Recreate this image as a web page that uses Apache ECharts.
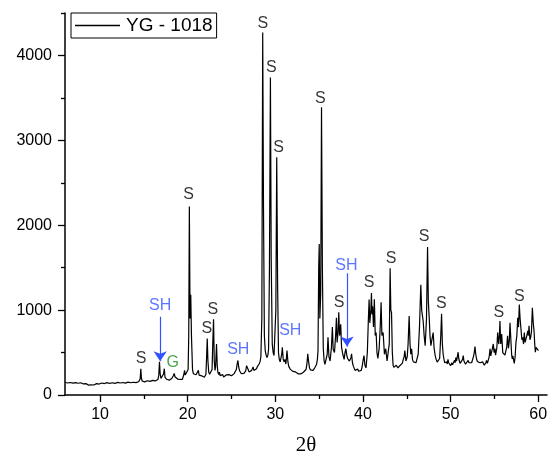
<!DOCTYPE html>
<html>
<head>
<meta charset="utf-8">
<script src="https://cdn.jsdelivr.net/npm/echarts@6/dist/echarts.min.js"></script>
<style>
  html, body { margin: 0; padding: 0; background: #fff; }
  #chart { width: 553px; height: 461px; }
</style>
</head>
<body>
<div id="chart"></div>
<script>
// XRD scan of sample YG - 1018: [2θ (deg), intensity (counts)]
const scanLow = [
  [6.0,150],[6.1,144],[6.2,152],[6.3,141],[6.4,148],[6.5,139],[6.6,147],[6.7,137],[6.8,145],[6.9,140],
  [7.0,151],[7.1,138],[7.2,146],[7.3,135],[7.4,143],[7.5,138],[7.6,149],[7.7,136],[7.8,144],[7.9,133],
  [8.0,141],[8.1,130],[8.2,138],[8.3,127],[8.4,134],[8.5,122],[8.6,129],[8.7,116],[8.8,124],[8.9,112],
  [9.0,120],[9.1,114],[9.2,126],[9.3,118],[9.4,130],[9.5,123],[9.6,134],[9.7,126],[9.8,136],[9.9,129],
  [10.0,139],[10.1,131],[10.2,141],[10.3,133],[10.4,144],[10.5,135],[10.6,142],[10.7,134],[10.8,146],[10.9,138],
  [11.0,143],[11.1,136],[11.2,147],[11.3,137],[11.4,144],[11.5,139],[11.6,148],[11.7,136],[11.8,145],[11.9,140],
  [12.0,149],[12.1,138],[12.2,146],[12.3,141],[12.4,150],[12.5,139],[12.6,147],[12.7,142],[12.8,151],[12.9,140],
  [13.0,148],[13.1,143],[13.2,152],[13.3,141],[13.4,149],[13.5,144],[13.6,153],[13.7,142],[13.8,150],[13.9,145],
  [14.0,154],[14.1,146],[14.2,151],[14.3,147],[14.4,156],[14.5,152],[14.58,190],[14.65,310],[14.72,200],[14.8,165],
  [14.9,158],[15.0,166],[15.1,155],[15.2,163],[15.3,158],[15.4,168],[15.5,156],[15.6,165],[15.7,160],[15.8,170],
  [15.9,161],[16.0,172],[16.1,164],[16.2,175],[16.3,166],[16.4,176],[16.5,170],[16.6,182],[16.7,230],[16.78,390],
  [16.86,250],[16.95,195],[17.05,185],[17.15,200],[17.25,250],[17.33,310],[17.41,210],[17.5,190],[17.6,185],[17.7,176],
  [17.8,182],[17.9,175],[18.0,190],[18.1,184],[18.2,198],[18.3,205],[18.38,230],[18.46,255],[18.55,215],[18.65,205],
  [18.75,195],[18.85,188],[19.0,176],[19.1,183],[19.2,172],[19.3,180],[19.4,185],[19.5,205],[19.58,250],[19.64,290],
  [19.72,235],[19.82,225],[19.92,240]
];
const scanMid = [
  [20.05,300],[20.12,700],[20.19,2220],[20.27,900],[20.35,1180],[20.43,700],[20.55,300],[20.65,250],[20.75,236],[20.85,228],
  [20.95,238],[21.05,232],[21.14,255],[21.22,290],[21.3,235],[21.4,222],[21.5,215],[21.6,226],[21.7,218],[21.8,230],
  [21.9,210],[22.0,225],[22.08,245],[22.16,450],[22.23,666],[22.31,400],[22.4,270],[22.5,245],[22.6,232],[22.7,248],
  [22.78,300],[22.86,600],[22.95,892],[23.03,400],[23.12,290],[23.18,330],[23.23,450],[23.29,601],[23.37,350],[23.45,265],
  [23.55,240],[23.62,270],[23.7,228],[23.8,238],[23.9,226],[24.0,240],[24.1,212],[24.2,230],[24.3,220],[24.4,236],
  [24.5,214],[24.6,232],[24.7,240],[24.8,222],[24.9,236],[25.0,226],[25.1,244],[25.2,236],[25.3,252],[25.42,266],
  [25.55,300],[25.65,370],[25.73,407],[25.82,330],[25.92,285],[26.02,262],[26.12,250],[26.22,245],[26.32,262],[26.42,255],
  [26.52,272],[26.62,285],[26.72,345],[26.8,360],[26.9,300],[27.0,272],[27.1,262],[27.2,280],[27.3,290],[27.38,305],
  [27.46,330],[27.55,290],[27.65,285],[27.75,280],[27.85,310],[27.95,335],[28.05,350],[28.15,365],[28.25,390],[28.35,450],
  [28.46,900],[28.56,4270],[28.65,2200],[28.75,700],[28.85,520],[28.95,470],[29.05,440],[29.15,470],[29.23,540],[29.33,1500],
  [29.44,3740],[29.53,1600],[29.65,600],[29.75,500],[29.85,465],[29.95,480],[30.06,1000],[30.16,2800],[30.26,1300],[30.36,500],
  [30.45,420],[30.55,390],[30.65,410],[30.73,480],[30.8,562],[30.9,420],[31.0,390],[31.1,420],[31.2,365],[31.27,440],
  [31.33,523],[31.43,400],[31.52,340],[31.6,330],[31.7,305],[31.8,318],[31.9,292],[32.0,278],[32.1,265],[32.2,256],
  [32.3,272],[32.4,258],[32.5,278],[32.6,250],[32.7,262],[32.8,272],[32.9,248],[33.0,262],[33.1,245],[33.2,268],
  [33.3,258],[33.4,280],[33.5,300],[33.6,360],[33.7,485],[33.8,390],[33.9,320],[34.0,295],[34.1,285],[34.2,300],
  [34.3,290],[34.4,310],[34.5,320],[34.6,338],[34.7,360],[34.8,420],[34.87,520],[34.95,1500],[35.01,1780],[35.08,900],
  [35.18,1200],[35.27,3390],[35.37,1500],[35.47,550],[35.57,400],[35.66,360],[35.74,375],[35.82,370],[35.92,480]
];
const scanHigh = [
  [36.01,680],[36.12,450],[36.25,400],[36.4,560],[36.51,800],[36.6,540],[36.75,500],[36.88,700],[36.97,910],[37.05,620],
  [37.16,750],[37.24,975],[37.33,700],[37.46,833],[37.56,560],[37.7,480],[37.85,420],[37.95,500],[38.05,545],[38.15,470],
  [38.25,430],[38.35,445],[38.45,400],[38.55,420],[38.63,440],[38.7,485],[38.8,380],[38.9,340],[39.0,318],[39.1,290],
  [39.2,312],[39.3,298],[39.4,306],[39.5,280],[39.6,296],[39.7,300],[39.8,290],[39.9,330],[40.03,420],[40.12,465],
  [40.22,350],[40.35,320],[40.5,500],[40.62,900],[40.7,1124],[40.78,850],[40.9,1000],[40.97,1200],[41.03,950],[41.1,1046],
  [41.2,800],[41.3,1128],[41.4,700],[41.5,736],[41.6,500],[41.7,430],[41.85,550],[41.97,800],[42.07,1093],[42.16,700],
  [42.3,736],[42.45,480],[42.6,545],[42.75,400],[42.9,388],[43.0,600],[43.1,1492],[43.18,1000],[43.26,969],[43.35,500],
  [43.44,349],[43.52,325],[43.6,340],[43.7,318],[43.8,350],[43.9,330],[44.0,320],[44.1,338],[44.2,345],[44.3,330],
  [44.4,360],[44.5,375],[44.6,420],[44.7,450],[44.78,523],[44.9,400],[45.05,450],[45.15,600],[45.27,930],[45.37,600],
  [45.46,480],[45.55,545],[45.65,420],[45.75,390],[45.85,372],[45.95,390],[46.05,380],[46.15,420],[46.3,480],[46.45,800],
  [46.6,1299],[46.7,1000],[46.87,872],[46.98,700],[47.1,581],[47.25,900],[47.37,1744],[47.46,1100],[47.55,930],[47.65,700],
  [47.75,581],[47.88,600],[48.01,736],[48.12,550],[48.24,465],[48.35,420],[48.47,388],[48.6,400],[48.75,430],[48.88,700],
  [48.97,957],[49.06,600],[49.15,480],[49.23,430],[49.32,380],[49.4,360],[49.48,372],[49.55,390],[49.62,365],[49.7,420],
  [49.78,380],[49.85,360],[49.92,372],[50.0,345],[50.08,362],[50.15,380],[50.22,355],[50.3,360],[50.38,375],[50.45,410],
  [50.52,380],[50.6,440],[50.68,400],[50.75,380],[50.86,504],[50.93,430],[51.0,400],[51.08,372],[51.15,360],[51.22,380],
  [51.3,390],[51.37,420],[51.44,465],[51.52,400],[51.6,380],[51.7,362],[51.8,350],[51.9,372],[52.0,407],[52.1,380],
  [52.2,360],[52.3,372],[52.4,380],[52.5,400],[52.6,450],[52.7,500],[52.78,570],[52.87,480],[52.95,430],[53.05,395],
  [53.15,407],[53.25,372],[53.35,380],[53.45,362],[53.54,368],[53.65,390],[53.75,380],[53.85,350],[53.95,360],[54.02,380],
  [54.1,407],[54.2,372],[54.3,380],[54.4,450],[54.5,545],[54.58,460],[54.65,480],[54.75,540],[54.87,601],[54.96,500],
  [55.06,545],[55.13,470],[55.2,480],[55.28,560],[55.37,736],[55.45,640],[55.5,600],[55.57,700],[55.63,872],[55.72,600],
  [55.83,717],[55.95,500],[56.04,480],[56.12,523],[56.2,470],[56.3,480],[56.4,560],[56.5,698],[56.6,550],[56.7,640],
  [56.78,850],[56.9,600],[56.97,470],[57.04,426],[57.1,460],[57.15,450],[57.21,400],[57.27,372],[57.36,450],[57.46,620],
  [57.56,700],[57.66,910],[57.75,800],[57.84,1066],[57.93,900],[58.03,779],[58.13,650],[58.23,678],[58.32,600],[58.41,736],
  [58.5,620],[58.6,640],[58.7,700],[58.8,756],[58.88,700],[58.95,814],[59.05,650],[59.14,678],[59.23,750],[59.33,1027],
  [59.43,850],[59.52,756],[59.6,600],[59.67,504],[59.75,560],[59.83,581],[59.92,540],[60.02,523]
];

// Phase labels: [2θ, intensity, phase]  (S, SH, G)
const phaseLabels = [
  [14.69,427,'S'],[16.86,1055,'SH'],[18.3,376,'G'],[20.09,2360,'S'],[22.18,783,'S'],[22.87,1008,'S'],
  [25.77,535,'SH'],[28.58,4380,'S'],[29.54,3857,'S'],[30.38,2919,'S'],[31.71,756,'SH'],[35.14,3488,'S'],
  [37.27,1085,'S'],[38.11,1520,'SH'],[40.7,1329,'S'],[43.21,1601,'S'],[46.98,1868,'S'],[48.93,1078,'S'],
  [55.49,969,'S'],[57.84,1163,'S']
];

// Arrows pointing at SH reflections: [2θ, start intensity, tip intensity]
const shArrows = [
  [16.86, 922, 399],
  [38.18, 1434, 570]
];

// Axis ticks
const xMajorTicks = [10, 20, 30, 40, 50, 60];
const xMinorTicks = [15, 25, 35, 45, 55];
const yMajorTicks = [0, 1000, 2000, 3000, 4000];
const yMinorTicks = [500, 1500, 2500, 3500, 4500];

const phaseColors = { S: '#000000', SH: '#3352ff', G: '#1f8c1f' };
const sansFont = 'Liberation Sans, Arial, sans-serif';

const chart = echarts.init(document.getElementById('chart'), null, { renderer: 'canvas' });

const scan = scanLow.concat(scanMid, scanHigh);

const axisCommon = {
  type: 'value',
  splitLine: { show: false },
  axisLine: { show: true, onZero: false, lineStyle: { color: '#000', width: 1.5 } }
};

const plainNumber = v => String(v);

chart.setOption({
  animation: false,
  backgroundColor: '#ffffff',
  grid: { left: 65, right: 6, top: 13, bottom: 61, containLabel: false },
  legend: {
    data: ['YG - 1018'],
    left: 71,
    top: 13,
    orient: 'horizontal',
    icon: 'rect',
    itemWidth: 45,
    itemHeight: 1.3,
    itemGap: 6,
    padding: [3, 4, 3, 4],
    borderColor: '#000',
    borderWidth: 1,
    selectedMode: false,
    itemStyle: { color: '#000' },
    textStyle: { fontFamily: sansFont, fontSize: 19, color: '#000', padding: [0, 0, 0, 1] }
  },
  xAxis: [
    Object.assign({}, axisCommon, {
      min: 6, max: 61,
      position: 'bottom',
      name: '2θ',
      nameLocation: 'middle',
      nameGap: 40,
      nameTextStyle: { fontFamily: 'Liberation Serif, Times New Roman, serif', fontSize: 21, color: '#000' },
      axisTick: { show: true, inside: false, length: 7, customValues: xMajorTicks, lineStyle: { color: '#000', width: 1.3 } },
      axisLabel: { show: true, margin: 12, customValues: xMajorTicks, formatter: plainNumber, fontFamily: sansFont, fontSize: 16, color: '#000' }
    }),
    Object.assign({}, axisCommon, {
      min: 6, max: 61,
      position: 'bottom',
      axisLine: { show: false },
      axisTick: { show: true, inside: false, length: 4, customValues: xMinorTicks, lineStyle: { color: '#000', width: 1.3 } },
      axisLabel: { show: false }
    })
  ],
  yAxis: [
    Object.assign({}, axisCommon, {
      min: 0, max: 4500,
      position: 'left',
      axisTick: { show: true, inside: false, length: 7, customValues: yMajorTicks, lineStyle: { color: '#000', width: 1.3 } },
      axisLabel: { show: true, margin: 13, customValues: yMajorTicks, formatter: plainNumber, fontFamily: sansFont, fontSize: 16, color: '#000' }
    }),
    Object.assign({}, axisCommon, {
      min: 0, max: 4500,
      position: 'left',
      axisLine: { show: false },
      axisTick: { show: true, inside: false, length: 4, customValues: yMinorTicks, lineStyle: { color: '#000', width: 1.3 } },
      axisLabel: { show: false }
    })
  ],
  series: [
    {
      name: 'YG - 1018',
      type: 'line',
      xAxisIndex: 0,
      yAxisIndex: 0,
      data: scan,
      showSymbol: false,
      symbol: 'none',
      silent: true,
      lineStyle: { color: '#000', width: 1.2 },
      itemStyle: { color: '#000' }
    },
    {
      name: 'phases',
      type: 'scatter',
      xAxisIndex: 0,
      yAxisIndex: 0,
      symbolSize: 0,
      silent: true,
      data: phaseLabels.map(p => ({
        value: [p[0], p[1]],
        label: {
          show: true,
          position: 'inside',
          formatter: p[2],
          fontFamily: sansFont,
          fontSize: 16,
          color: phaseColors[p[2]]
        }
      })),
      markLine: {
        silent: true,
        symbol: ['none', 'arrow'],
        symbolSize: 10,
        label: { show: false },
        lineStyle: { color: phaseColors.SH, width: 1.2, type: 'solid' },
        emphasis: { disabled: true },
        data: shArrows.map(a => [
          { coord: [a[0], a[1]] },
          { coord: [a[0], a[2]] }
        ])
      }
    }
  ]
});
</script>
</body>
</html>
